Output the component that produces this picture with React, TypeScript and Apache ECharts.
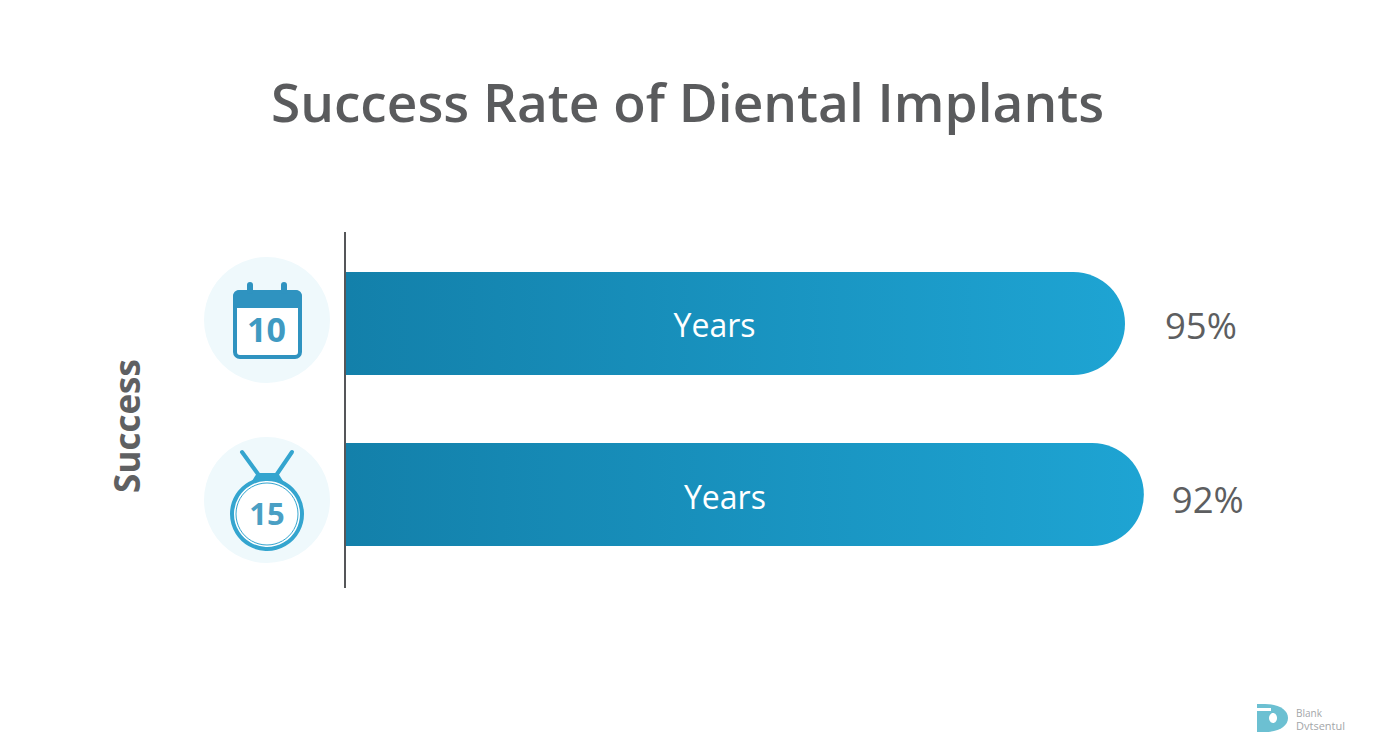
import React, { useEffect, useRef } from "react";
import * as echarts from "echarts";

const titleText = "Success Rate of Diental Implants";
const axisName = "Success";
const categories = ["10 Years", "15 Years"];
const barLabels = ["Years", "Years"];
// bar extents as drawn in the picture (the drawn lengths do not follow the printed percentages)
const barLengths = [95, 97.3];
const valueLabels = ["95%", "92%"];
const iconNumbers = ["10", "15"];
const logoLines = ["Blank", "Dvtsentul"];

const FONT = "'Open Sans', 'Noto Sans', sans-serif";
const GREY = "#5a5b5d";
const ICON_A = "#2f93c0";
const ICON_B = "#34a5cf";
const HALO = "#eff9fc";
const LOGO = "#6cc0d2";

echarts.graphic.registerShape("logoD", echarts.graphic.extendPath("M0 0 H8 C22 0 31 6 31 14 C31 22 22 28 8 28 H0 Z", {}));

export default function App() {
  const ref = useRef<HTMLDivElement>(null);
  useEffect(() => {
    if (!ref.current) return;
    const chart = echarts.init(ref.current, undefined, { renderer: "svg" });
    const gradient = new echarts.graphic.LinearGradient(0, 0, 1, 0, [
      { offset: 0, color: "#1380aa" },
      { offset: 1, color: "#1ea4d3" },
    ]);
    const labelOffsets = [[-21, 1], [-20, 2]];
    const valueDistances = [40, 28];
    const valueShifts = [[0, 1], [0, 4]];
    chart.setOption({
      animation: false,
      backgroundColor: "#ffffff",
      title: {
        text: titleText,
        left: 682.5,
        top: 70,
        textAlign: "center",
        textStyle: { color: GREY, fontFamily: FONT, fontSize: 53.2, fontWeight: 600 },
      },
      grid: { left: 346, top: 238, width: 820, height: 342, containLabel: false },
      xAxis: { type: "value", min: 0, max: 100, show: false },
      yAxis: {
        type: "category",
        inverse: true,
        data: categories,
        name: axisName,
        nameLocation: "middle",
        nameRotate: 90,
        nameGap: 202,
        nameTextStyle: {
          color: "#5f6062",
          fontFamily: FONT,
          fontSize: 35,
          fontWeight: 700,
          padding: [0, 34, 0, 0],
        },
        axisLine: { show: false },
        axisTick: { show: false },
        axisLabel: { show: false },
        splitLine: { show: false },
      },
      series: [
        {
          type: "bar",
          barWidth: 103,
          barGap: "-100%",
          silent: true,
          data: barLengths.map((v, i) => ({
            value: v,
            label: {
              show: true,
              position: "inside",
              formatter: barLabels[i],
              offset: labelOffsets[i],
              color: "#ffffff",
              fontFamily: FONT,
              fontSize: 32,
            },
          })),
          itemStyle: { color: gradient, borderRadius: [0, 52, 52, 0] },
        },
        {
          type: "bar",
          barWidth: 103,
          silent: true,
          data: barLengths.map((v, i) => ({
            value: v,
            label: {
              show: true,
              position: "right",
              distance: valueDistances[i],
              offset: valueShifts[i],
              formatter: valueLabels[i],
              color: "#5d5e60",
              fontFamily: FONT,
              fontSize: 36.5,
            },
          })),
          itemStyle: { color: "transparent" },
        },
      ],
      graphic: [
        { type: "line", shape: { x1: 345, y1: 232, x2: 345, y2: 588 }, style: { stroke: "#555659", lineWidth: 2 } },
        { type: "circle", shape: { cx: 267, cy: 320, r: 63 }, style: { fill: HALO } },
        { type: "circle", shape: { cx: 267, cy: 500, r: 63 }, style: { fill: HALO } },
        // calendar icon
        { type: "rect", shape: { x: 235, y: 292, width: 65, height: 65, r: 5 }, style: { fill: "#ffffff", stroke: ICON_A, lineWidth: 4 } },
        { type: "rect", shape: { x: 233, y: 290, width: 69, height: 18, r: [6, 6, 0, 0] }, style: { fill: ICON_A } },
        { type: "rect", shape: { x: 247, y: 282, width: 6, height: 12, r: 3 }, style: { fill: ICON_A } },
        { type: "rect", shape: { x: 281, y: 282, width: 6, height: 12, r: 3 }, style: { fill: ICON_A } },
        {
          type: "text",
          x: 266.5,
          y: 329,
          style: { text: iconNumbers[0], fill: "#3f9ac2", font: `700 34px ${FONT}`, textAlign: "center", textVerticalAlign: "middle" },
        },
        // medal icon
        { type: "line", shape: { x1: 242, y1: 452, x2: 258, y2: 474 }, style: { stroke: ICON_B, lineWidth: 4, lineCap: "round" } },
        { type: "line", shape: { x1: 292, y1: 452, x2: 277, y2: 474 }, style: { stroke: ICON_B, lineWidth: 4, lineCap: "round" } },
        { type: "polygon", shape: { points: [[257, 473], [278, 473], [283, 481], [252, 481]] }, style: { fill: ICON_B } },
        { type: "circle", shape: { cx: 267, cy: 514, r: 35 }, style: { fill: "#ffffff", stroke: ICON_B, lineWidth: 4 } },
        { type: "circle", shape: { cx: 267, cy: 514, r: 31 }, style: { fill: "transparent", stroke: ICON_B, lineWidth: 1 } },
        {
          type: "text",
          x: 267,
          y: 513,
          style: { text: iconNumbers[1], fill: "#4a9fc4", font: `700 31px ${FONT}`, textAlign: "center", textVerticalAlign: "middle" },
        },
        // watermark
        { type: "logoD", x: 1257, y: 704, style: { fill: LOGO } },
        { type: "rect", shape: { x: 1257, y: 708, width: 14, height: 3 }, style: { fill: "#ffffff" } },
        { type: "ellipse", shape: { cx: 1273, cy: 718, rx: 4, ry: 5 }, style: { fill: "#ffffff" } },
        {
          type: "text",
          x: 1296,
          y: 713,
          style: { text: logoLines[0], fill: "#a3a6a9", font: `10px ${FONT}`, textVerticalAlign: "middle" },
        },
        {
          type: "text",
          x: 1296,
          y: 725,
          style: { text: logoLines[1], fill: "#a3a6a9", font: `11px ${FONT}`, textVerticalAlign: "middle" },
        },
      ],
    });
    return () => chart.dispose();
  }, []);
  return <div ref={ref} style={{ position: "fixed", left: 0, top: 0, width: 1392, height: 752 }} />;
}
